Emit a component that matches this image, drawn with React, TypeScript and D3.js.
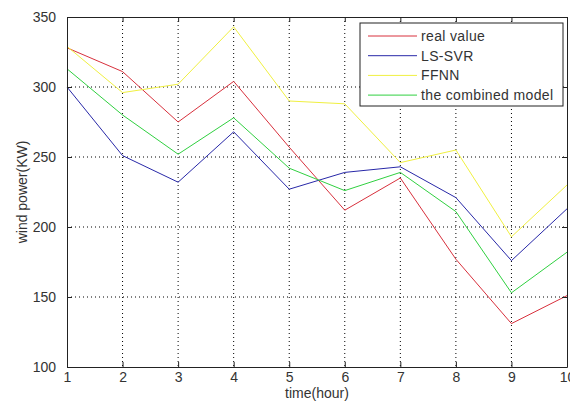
import React, { useEffect, useRef } from 'react';
import * as d3 from 'd3';

const hours = [1, 2, 3, 4, 5, 6, 7, 8, 9, 10];
const realValue = [328, 311, 275, 304, 257, 212, 235, 177, 131, 151];
const lsSvr = [300, 251, 232, 268, 227, 239, 243, 221, 176, 213];
const ffnn = [329, 296, 302, 343, 290, 288, 246, 255, 193, 230];
const combined = [313, 280, 252, 278, 242, 226, 239, 211, 153, 182];
const yTicks = [100, 150, 200, 250, 300, 350];

const seriesNames = ['real value', 'LS-SVR', 'FFNN', 'the combined model'];
const seriesColors = ['#d8303c', '#2828a8', '#f0f040', '#30d040'];

const App = () => {
  const ref = useRef<SVGSVGElement>(null);

  useEffect(() => {
    document.body.style.margin = '0';
    const width = 570;
    const height = 403;
    const margin = { top: 17, right: 3, bottom: 36, left: 67 };
    const w = width - margin.left - margin.right;
    const h = height - margin.top - margin.bottom;
    const font = 'Liberation Sans, Arial, sans-serif';

    const root = d3.select(ref.current);
    root.selectAll('*').remove();
    root.append('rect').attr('width', width).attr('height', height).attr('fill', '#fff');

    const svg = root.append('g').attr('transform', `translate(${margin.left},${margin.top})`);

    const x = d3.scaleLinear().domain([1, 10]).range([0, w]);
    const y = d3.scaleLinear().domain([100, 350]).range([h, 0]);

    // grid
    svg.selectAll('.vgrid')
      .data(hours.slice(1, -1))
      .enter()
      .append('line')
      .attr('x1', d => x(d)).attr('x2', d => x(d))
      .attr('y1', 0).attr('y2', h)
      .attr('stroke', '#000').attr('stroke-width', 1)
      .attr('stroke-dasharray', '1,3');
    svg.selectAll('.hgrid')
      .data(yTicks.slice(1, -1))
      .enter()
      .append('line')
      .attr('x1', 0).attr('x2', w)
      .attr('y1', d => y(d)).attr('y2', d => y(d))
      .attr('stroke', '#000').attr('stroke-width', 1)
      .attr('stroke-dasharray', '1,3');

    // lines
    const line = d3.line<number>()
      .x((_, i) => x(hours[i]))
      .y(d => y(d));
    [realValue, lsSvr, ffnn, combined].forEach((s, i) => {
      svg.append('path')
        .datum(s)
        .attr('d', line)
        .attr('fill', 'none')
        .attr('stroke', seriesColors[i])
        .attr('stroke-width', 1);
    });

    // axes (box, inward ticks)
    const bottom = d3.axisBottom(x).tickValues(hours).tickFormat(d3.format('d')).tickSizeInner(-5).tickSizeOuter(0).tickPadding(5);
    const top = d3.axisTop(x).tickValues(hours).tickFormat(() => '').tickSizeInner(-5).tickSizeOuter(0);
    const left = d3.axisLeft(y).tickValues(yTicks).tickSizeInner(-5).tickSizeOuter(0).tickPadding(11);
    const right = d3.axisRight(y).tickValues(yTicks).tickFormat(() => '').tickSizeInner(-5).tickSizeOuter(0);

    const gb = svg.append('g').attr('transform', `translate(0,${h})`).call(bottom);
    const gt = svg.append('g').call(top);
    const gl = svg.append('g').call(left);
    const gr = svg.append('g').attr('transform', `translate(${w},0)`).call(right);
    [gb, gt, gl, gr].forEach(g => {
      g.selectAll('path').attr('stroke', '#222');
      g.selectAll('line').attr('stroke', '#222');
      g.selectAll('text').attr('fill', '#333').style('font-family', font).style('font-size', '14px');
    });

    svg.append('text')
      .attr('x', w / 2)
      .attr('y', h + 31)
      .attr('text-anchor', 'middle')
      .style('font-family', font)
      .style('font-size', '14px')
      .attr('fill', '#333')
      .text('time(hour)');

    svg.append('text')
      .attr('transform', 'rotate(-90)')
      .attr('x', -h / 2)
      .attr('y', -margin.left + 27)
      .attr('text-anchor', 'middle')
      .style('font-family', font)
      .style('font-size', '14px')
      .attr('fill', '#333')
      .text('wind power(KW)');

    // legend
    const lg = svg.append('g').attr('transform', `translate(${360 - margin.left},${23 - margin.top})`);
    lg.append('rect')
      .attr('width', 203).attr('height', 83)
      .attr('fill', '#fff').attr('stroke', '#222').attr('stroke-width', 1);
    seriesNames.forEach((name, i) => {
      const yy = 13 + i * 19.7;
      lg.append('line')
        .attr('x1', 8).attr('x2', 57)
        .attr('y1', yy).attr('y2', yy)
        .attr('stroke', seriesColors[i]).attr('stroke-width', 1);
      lg.append('text')
        .attr('x', 61).attr('y', yy + 5)
        .style('font-family', font)
        .style('font-size', '14px')
        .style('letter-spacing', '0.35px')
        .attr('fill', '#333')
        .text(name);
    });
  }, []);

  return <svg ref={ref} width={570} height={403} style={{ display: 'block' }} />;
};

export default App;
